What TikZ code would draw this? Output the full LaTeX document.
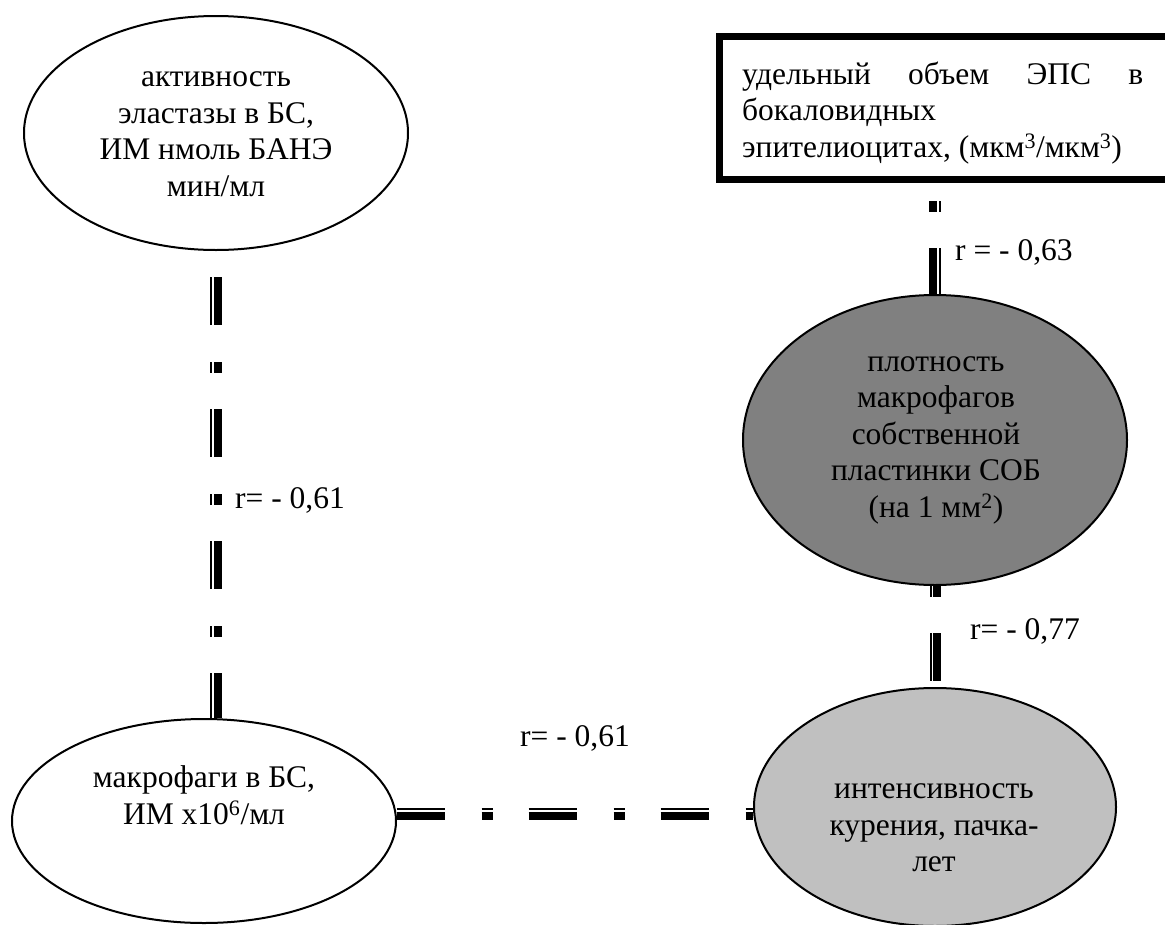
\documentclass[tikz,border=0pt]{standalone}
\usepackage{fontspec}
\setmainfont{Liberation Serif}
\usetikzlibrary{shapes.geometric}

\definecolor{darkfill}{HTML}{808080}
\definecolor{lightfill}{HTML}{C0C0C0}

\begin{document}
\begin{tikzpicture}[x=1pt, y=-1pt,
  oval/.style={ellipse, draw=black, line width=2pt, inner sep=0pt},
  txt/.style={inner sep=0pt, align=center, font=\fontsize{31.5}{36.5}\selectfont},
  lbl/.style={inner sep=0pt, anchor=west, font=\fontsize{31.5}{36.5}\selectfont},
  linkpat/.style={dash pattern=on 48pt off 37pt on 11pt off 36pt},
  thinpart/.style={linkpat, line width=2pt},
  thickpart/.style={linkpat, line width=8pt}
]
\useasboundingbox (0,0) rectangle (1165,924);
\fill[white] (0,0) rectangle (1165,924);

% ellipses
\node[oval, fill=white, minimum width=384pt, minimum height=234pt] (A) at (216,133) {};
\node[oval, fill=white, minimum width=384pt, minimum height=204pt] (B) at (204,821) {};
\node[oval, fill=darkfill, minimum width=384pt, minimum height=290pt] (C) at (935,440) {};
\node[oval, fill=lightfill, minimum width=362pt, minimum height=238pt] (D) at (935,807) {};

% framed box, running off the right edge
\node[draw=black, line width=7pt, inner sep=0pt, outer sep=3.5pt,
      minimum width=460.5pt, minimum height=143pt] (E) at (949.75,108) {};

% texts
\node[txt] (Atext) at (216,134) {активность\\эластазы в БС,\\ИМ нмоль БАНЭ\\мин/мл};
\node[txt] (Btext) at (204,795) {макрофаги в БС,\\ИМ х10\textsuperscript{6}/мл};
\node[txt] (Ctext) at (936,440) {плотность\\макрофагов\\собственной\\пластинки СОБ\\(на 1 мм\textsuperscript{2})};
\node[txt] (Dtext) at (934,828) {интенсивность\\курения, пачка-\\лет};
\node[txt, align=left, anchor=west] (Etext) at (742,113)
  {\hbox to 401pt{удельный\hfill объем\hfill ЭПС\hfill в}\\бокаловидных\\эпителиоцитах, (мкм\textsuperscript{3}/мкм\textsuperscript{3})};

% double connectors: a thin stroke beside a thick one
\draw[thinpart, dash phase=106pt, transform canvas={xshift=-5pt}] (A.south) -- (A.south |- B.north);
\draw[thickpart, dash phase=106pt, transform canvas={xshift=2pt}] (A.south) -- (A.south |- B.north);

\draw[thinpart, dash phase=0pt, transform canvas={yshift=5pt}] (B.2) -- (B.2 -| D.west);
\draw[thickpart, dash phase=0pt, transform canvas={yshift=-2pt}] (B.2) -- (B.2 -| D.west);

\draw[thickpart, dash phase=67pt, transform canvas={xshift=-2pt}] (C.north |- E.south) -- (C.north);
\draw[thinpart, dash phase=67pt, transform canvas={xshift=5pt}] (C.north |- E.south) -- (C.north);

\draw[thinpart, dash phase=85pt, transform canvas={xshift=-4.5pt}] (C.south) -- (C.south |- D.north);
\draw[thickpart, dash phase=85pt, transform canvas={xshift=2pt}] (C.south) -- (C.south |- D.north);

% correlation labels
\node[lbl] (rAB) at (235,500) {r= - 0,61};
\node[lbl] (rEC) at (955,252) {r = - 0,63};
\node[lbl] (rCD) at (970,631) {r= - 0,77};
\node[lbl] (rBD) at (520,738) {r= - 0,61};
\end{tikzpicture}
\end{document}
